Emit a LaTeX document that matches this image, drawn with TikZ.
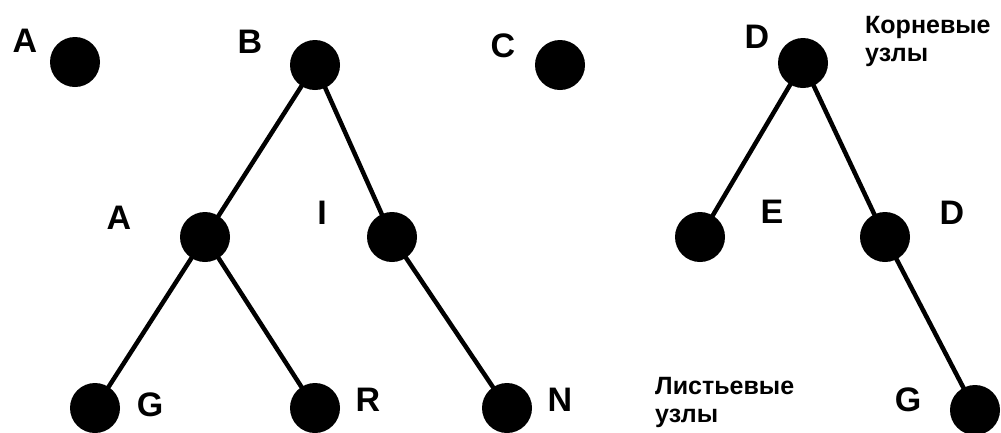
\documentclass[tikz,border=0pt]{standalone}
\usepackage{fontspec}
\setmainfont{Liberation Sans}
\begin{document}
\begin{tikzpicture}[x=1pt,y=-1pt,
  dot/.style={circle,fill=black,draw=none,minimum size=50pt,inner sep=0pt},
  lbl/.style={font=\fontsize{34}{34}\selectfont\bfseries,inner sep=0pt,anchor=center},
  note/.style={font=\fontsize{25}{28}\selectfont\bfseries,inner sep=0pt,align=left,anchor=north west},
  edge/.style={line width=4.5pt}]
\useasboundingbox (0,0) rectangle (1001,432);
% nodes
\node[dot] (a0) at (75,62) {};
\node[dot] (b) at (315,65) {};
\node[dot] (c) at (560,65) {};
\node[dot] (d0) at (803,63) {};
\node[dot] (a1) at (205,237) {};
\node[dot] (i) at (392,237) {};
\node[dot] (g1) at (95,408) {};
\node[dot] (r) at (315,408) {};
\node[dot] (n) at (507,408) {};
\node[dot] (e) at (700,237) {};
\node[dot] (d1) at (885,237) {};
\node[dot] (g2) at (975,410) {};
% edges
\draw[edge] (b.center) -- (a1.center);
\draw[edge] (b.center) -- (i.center);
\draw[edge] (a1.center) -- (g1.center);
\draw[edge] (a1.center) -- (r.center);
\draw[edge] (i.center) -- (n.center);
\draw[edge] (d0.center) -- (e.center);
\draw[edge] (d0.center) -- (d1.center);
\draw[edge] (d1.center) -- (g2.center);
% labels
\node[lbl] (la0) at (25,41) {A};
\node[lbl] (lb) at (250,42) {B};
\node[lbl] (lc) at (503,46) {C};
\node[lbl] (ld0) at (757,37) {D};
\node[lbl] (la1) at (119,218) {A};
\node[lbl] (li) at (322,213) {I};
\node[lbl] (lg1) at (150,405) {G};
\node[lbl] (lr) at (368,400) {R};
\node[lbl] (ln) at (560,400) {N};
\node[lbl] (le) at (772,212) {E};
\node[lbl] (ld1) at (952,213) {D};
\node[lbl] (lg2) at (908,400) {G};
\node[note] (root) at (865,16) {Корневые\\узлы};
\node[note] (leaf) at (655,377) {Листьевые\\узлы};
\end{tikzpicture}
\end{document}
